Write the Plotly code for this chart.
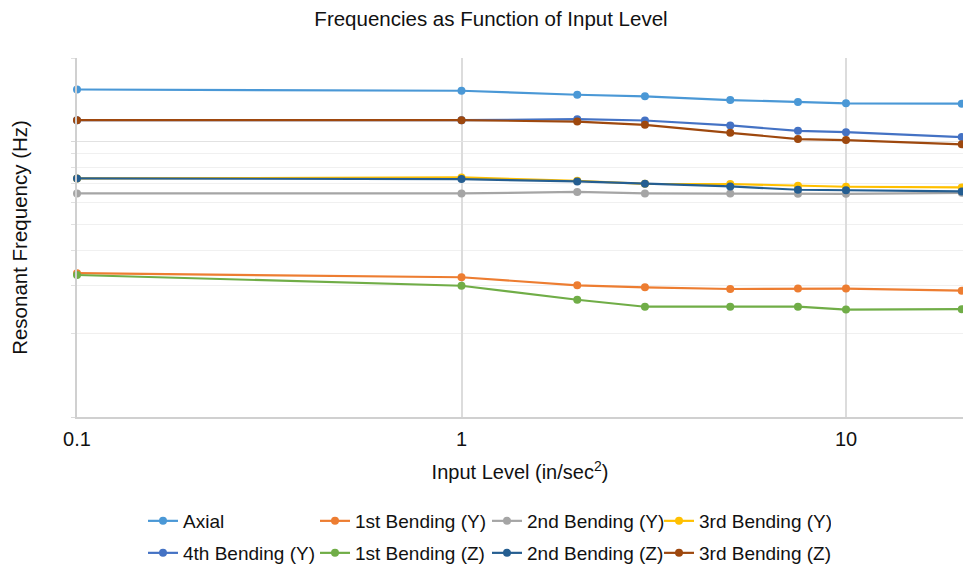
import plotly.graph_objects as go

input_level = [0.1, 1, 2, 3, 5, 7.5, 10, 20]

axial = [1538, 1522, 1472, 1452, 1408, 1385, 1370, 1366]
bend1_y = [332, 321, 300, 295, 291, 292, 292, 287]
bend2_y = [646, 646, 654, 646, 645, 644, 644, 649]
bend3_y = [732, 738, 718, 700, 699, 689, 683, 679]
bend4_y = [1190, 1190, 1200, 1187, 1139, 1089, 1077, 1034]
bend1_z = [327, 299, 266, 251, 251, 251, 245, 246]
bend2_z = [732, 728, 714, 700, 685, 666, 663, 657]
bend3_z = [1190, 1190, 1177, 1145, 1071, 1017, 1008, 973]

series = [
    ("Axial", axial, "#4A98D6", "legend"),
    ("1st Bending (Y)", bend1_y, "#ED7D31", "legend"),
    ("2nd Bending (Y)", bend2_y, "#A5A5A5", "legend"),
    ("3rd Bending (Y)", bend3_y, "#FFC000", "legend"),
    ("4th Bending (Y)", bend4_y, "#4472C4", "legend2"),
    ("1st Bending (Z)", bend1_z, "#70AD47", "legend2"),
    ("2nd Bending (Z)", bend2_z, "#255E91", "legend2"),
    ("3rd Bending (Z)", bend3_z, "#9E480E", "legend2"),
]

fig = go.Figure()
for name, vals, color, lg in series:
    fig.add_trace(go.Scatter(
        x=input_level, y=vals, name=name, mode="lines+markers",
        line=dict(color=color, width=2.2),
        marker=dict(color=color, size=8),
        cliponaxis=False, legend=lg,
    ))

font_family = "Liberation Sans, Arial, sans-serif"
leg_x = 143 / 963

fig.update_layout(
    width=963, height=569,
    margin=dict(l=77, r=0, t=58, b=152, autoexpand=False),
    paper_bgcolor="white", plot_bgcolor="white",
    font=dict(family=font_family, color="#111", size=18),
    title=dict(text="Frequencies as Function of Input Level", x=491 / 963, xref="container",
               xanchor="center", y=1 - 19 / 569, yanchor="middle",
               font=dict(size=20.5, color="#111")),
    xaxis=dict(
        type="log", range=[-1, 1.3043], automargin=False,
        tickvals=[0.1, 1, 10], ticktext=["0.1", "1", "10"],
        showgrid=True, gridcolor="#DCDCDC", gridwidth=1.5,
        showline=True, linecolor="#D0D0D0", linewidth=2,
        ticks="", tickfont=dict(size=20, color="#111"), ticklabelstandoff=3,
        title=dict(text="Input Level (in/sec<sup>2</sup>)", font=dict(size=20, color="#111"), standoff=16),
        zeroline=False,
    ),
    yaxis=dict(
        type="log", range=[2, 3.30103], automargin=False,
        tickvals=[100, 1000], showticklabels=False,
        showgrid=True, gridcolor="#E2E2E2", gridwidth=1.2,
        showline=True, linecolor="#D0D0D0", linewidth=2,
        ticks="outside", ticklen=4, tickcolor="#D8D8D8",
        minor=dict(tickvals=[200, 300, 400, 500, 600, 700, 800, 900, 2000],
                   showgrid=True, gridcolor="#F0F0F0", gridwidth=1,
                   ticks="outside", ticklen=4, tickcolor="#E0E0E0"),
        title=dict(text="Resonant Frequency (Hz)", font=dict(size=20.5, color="#111"), standoff=38),
        zeroline=False,
    ),
    legend=dict(orientation="h", xref="container", yref="container", x=leg_x, xanchor="left",
                y=1 - 502 / 569, yanchor="top",
                entrywidth=127, font=dict(size=19, color="#111"), bgcolor="rgba(0,0,0,0)"),
    legend2=dict(orientation="h", xref="container", yref="container", x=leg_x, xanchor="left",
                 y=1 - 534 / 569, yanchor="top",
                 entrywidth=127, font=dict(size=19, color="#111"), bgcolor="rgba(0,0,0,0)"),
)

fig.write_html("out.html")
